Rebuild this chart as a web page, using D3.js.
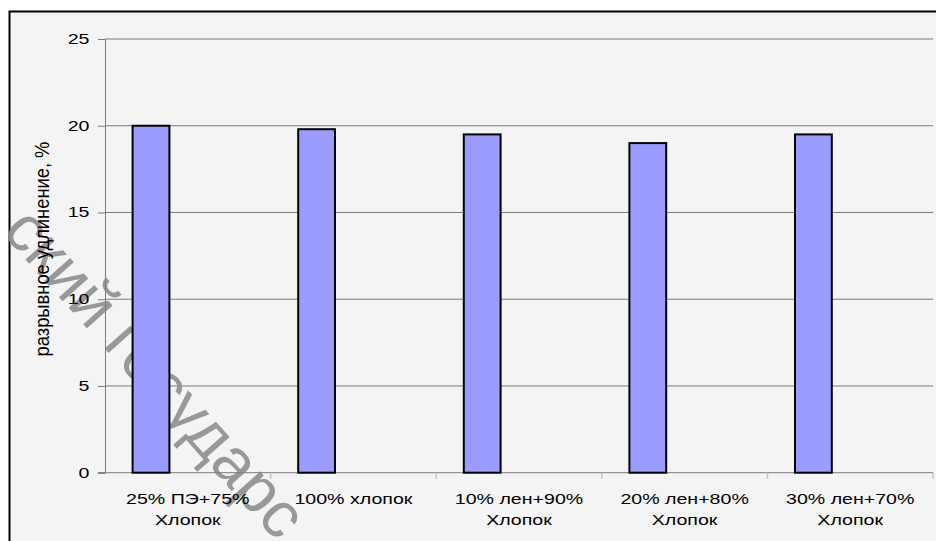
<!DOCTYPE html>
<html>
<head>
<meta charset="utf-8">
<script src="https://cdn.jsdelivr.net/npm/d3@7"></script>
<style>
  html, body { margin: 0; padding: 0; background: #ffffff; }
  svg { display: block; }
  text { font-family: "Liberation Sans", Arial, sans-serif; fill: #000; }
</style>
</head>
<body>
<svg id="chart" width="936" height="541"></svg>
<script>
// Breaking elongation of fabrics by fibre composition
const categories = [
  ["25% ПЭ+75%", "Хлопок"],
  ["100% хлопок"],
  ["10% лен+90%", "Хлопок"],
  ["20% лен+80%", "Хлопок"],
  ["30% лен+70%", "Хлопок"]
];
const elongation = [20.0, 19.8, 19.5, 19.0, 19.5];
const yTicks = [0, 5, 10, 15, 20, 25];
const yTitle = "разрывное удлинение, %";
const watermark = "ский государс";

const svg = d3.select("#chart");
const W = 936, H = 541;
const plot = { left: 105, right: 933, top: 39, bottom: 472.7 };
const stretch = 1.4; // wide glyph look of the labels

// frame and background
svg.append("rect").attr("width", W).attr("height", H).attr("fill", "#fff");
svg.append("rect")
  .attr("x", 9.5).attr("y", 11.5)
  .attr("width", W + 20).attr("height", H + 20)
  .attr("fill", "#f4f4f4")
  .attr("stroke", "#000").attr("stroke-width", 2);

const keys = categories.map((c, i) => i);
const x = d3.scaleBand().domain(keys).range([plot.left, plot.right]).padding(0);
// each category reserves three bar slots; the data sits in the first one
const slot = d3.scaleBand().domain([0, 1, 2]).range([0, x.bandwidth()])
  .paddingInner(0).paddingOuter(0.75);
const y = d3.scaleLinear().domain([0, 25]).range([plot.bottom, plot.top]);

// horizontal gridlines
svg.append("g").selectAll("line").data(yTicks.filter(t => t > 0)).join("line")
  .attr("x1", plot.left).attr("x2", plot.right)
  .attr("y1", d => y(d)).attr("y2", d => y(d))
  .attr("stroke", "#7a7a7a").attr("stroke-width", 1);

// diagonal watermark, kept beneath the bars
svg.append("text")
  .attr("transform", "translate(1,232) rotate(48.3)")
  .attr("font-size", 65)
  .style("fill", "#8e8e8e")
  .attr("fill-opacity", 0.9)
  .text(watermark);

// y axis
const yAxis = svg.append("g").attr("transform", `translate(${plot.left},0)`)
  .call(d3.axisLeft(y).tickValues(yTicks).tickSize(7).tickFormat(""));
yAxis.select(".domain").attr("stroke", "#7a7a7a");
yAxis.selectAll(".tick line").attr("stroke", "#7a7a7a");
svg.append("g").selectAll("text").data(yTicks).join("text")
  .attr("transform", d => `translate(89.5,${y(d) + 5}) scale(${stretch},1)`)
  .attr("text-anchor", "end")
  .attr("font-size", 14)
  .text(d => d);

// x axis baseline with category separators
svg.append("line")
  .attr("x1", plot.left - 7).attr("x2", plot.right)
  .attr("y1", plot.bottom).attr("y2", plot.bottom)
  .attr("stroke", "#7a7a7a");
const seps = keys.map(k => x(k)).concat([plot.right]).slice(1);
svg.append("g").selectAll("line").data(seps).join("line")
  .attr("x1", d => d).attr("x2", d => d)
  .attr("y1", plot.bottom).attr("y2", plot.bottom + 6)
  .attr("stroke", "#c4c4c4").attr("stroke-width", 1.5);

// bars
svg.append("g").selectAll("rect").data(elongation).join("rect")
  .attr("x", (d, i) => x(i) + slot(0))
  .attr("width", slot.bandwidth())
  .attr("y", d => y(d))
  .attr("height", d => y(0) - y(d))
  .attr("fill", "#9c9cff")
  .attr("stroke", "#000").attr("stroke-width", 2);

// category labels
const labels = svg.append("g");
categories.forEach((lines, i) => {
  const cx = x(i) + x.bandwidth() / 2;
  lines.forEach((line, j) => {
    labels.append("text")
      .attr("transform", `translate(${cx},${504 + j * 21}) scale(${stretch},1)`)
      .attr("text-anchor", "middle")
      .attr("font-size", 14)
      .text(line);
  });
});

// y axis title
svg.append("text")
  .attr("transform", `translate(48.5,249) rotate(-90) scale(1.31,${stretch})`)
  .attr("text-anchor", "middle")
  .attr("font-size", 14)
  .text(yTitle);
</script>
</body>
</html>
